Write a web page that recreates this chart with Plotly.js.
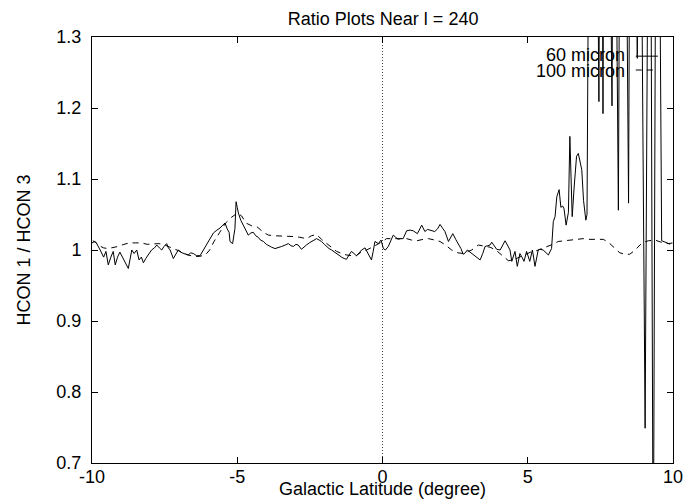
<!DOCTYPE html>
<html>
<head>
<meta charset="utf-8">
<script src="https://cdn.plot.ly/plotly-3.0.1.min.js"></script>
<style>html,body{margin:0;padding:0;background:#fff;}#chart{width:686px;height:502px;}</style>
</head>
<body>
<div id="chart"></div>
<script>
// 60 micron ratio (solid)
const lat60 = [
-9.97,-9.85,-9.72,-9.6,-9.52,-9.44,-9.35,-9.27,-9.2,-9.12,-9.04,-8.95,-8.87,-8.75,-8.63,-8.55,-8.46,-8.38,-8.3,-8.23,
-8.15,-8.06,-7.95,-7.85,-7.77,-7.68,-7.6,-7.52,-7.43,-7.37,-7.31,-7.2,-7.1,-7.03,-6.95,-6.86,-6.78,-6.69,-6.6,-6.51,
-6.4,-6.28,-6.16,-6.05,-5.99,-5.9,-5.82,-5.7,-5.59,-5.5,-5.42,-5.35,-5.28,-5.25,-5.16,-5.08,-5.04,-5.0,-4.96,-4.88,
-4.79,-4.7,-4.62,-4.53,-4.45,-4.36,-4.28,-4.2,-4.1,-4.0,-3.93,-3.82,-3.7,-3.6,-3.47,-3.35,-3.24,-3.15,-3.07,-2.98,
-2.9,-2.79,-2.7,-2.62,-2.52,-2.44,-2.35,-2.27,-2.18,-2.1,-2.0,-1.93,-1.84,-1.75,-1.66,-1.58,-1.5,-1.41,-1.32,-1.24,
-1.15,-1.07,-0.98,-0.9,-0.8,-0.72,-0.6,-0.5,-0.38,-0.32,-0.26,-0.14,-0.05,0.03,0.1,0.2,0.28,0.37,0.45,0.54,
0.62,0.71,0.83,0.95,1.06,1.2,1.35,1.46,1.55,1.63,1.8,1.9,1.98,2.08,2.15,2.27,2.42,2.52,2.61,2.7,
2.78,2.85,2.92,3.07,3.2,3.36,3.45,3.53,3.62,3.7,3.76,3.85,3.93,4.05,4.14,4.22,4.3,4.39,4.45,4.5,
4.56,4.64,4.73,4.8,4.87,4.96,5.07,5.16,5.25,5.36,5.42,5.53,5.6,5.71,5.82,5.88,5.94,6.0,6.08,6.14,
6.2,6.25,6.32,6.4,6.45,6.53,6.6,6.68,6.74,6.8,6.86,6.92,6.97,7.0,7.04,7.09,7.2,7.35,7.45,7.52,
7.59,7.66,7.8,7.9,7.97,8.12,8.22,8.35,8.47,8.55,8.7,8.77,8.85,9.04,9.2,9.32,9.45,9.61,9.7,9.8,9.9];
const ratio60 = [
1.013,1.010,1.000,0.990,0.998,0.979,0.990,0.998,0.979,0.990,0.997,0.990,0.985,0.974,1.000,0.995,1.000,0.986,0.990,0.982,
0.988,0.993,1.000,1.003,1.007,1.003,1.000,1.005,1.009,1.003,1.000,0.988,0.995,1.000,0.997,0.995,0.994,0.993,0.996,0.995,
0.992,0.992,1.000,1.008,1.012,1.018,1.024,1.028,1.031,1.035,1.038,1.030,1.025,1.012,1.009,1.030,1.068,1.060,1.052,1.042,
1.035,1.028,1.021,1.024,1.025,1.020,1.018,1.014,1.012,1.008,1.006,1.004,1.002,1.003,1.005,1.007,1.009,1.006,1.005,1.008,
1.007,1.001,1.005,1.007,1.010,1.012,1.014,1.016,1.014,1.012,1.008,1.005,1.002,1.000,0.997,0.995,0.993,0.990,0.988,0.987,
0.993,0.998,0.995,0.992,0.996,1.000,1.003,0.995,0.986,0.998,1.012,1.009,1.014,1.002,1.000,1.005,1.012,1.021,1.018,1.015,
1.016,1.016,1.027,1.028,1.027,1.023,1.035,1.026,1.029,1.028,1.026,1.030,1.036,1.030,1.026,1.012,1.023,1.015,1.009,1.002,
0.994,0.996,1.000,0.995,0.990,0.986,0.995,1.005,1.006,1.007,1.011,1.005,1.001,1.000,1.006,1.013,1.007,1.000,0.984,0.990,
0.998,0.977,0.995,0.990,0.984,0.998,0.984,1.000,0.977,1.000,1.001,1.000,0.997,0.993,1.002,1.040,1.047,1.075,1.085,1.060,
1.062,1.058,1.035,1.053,1.160,1.047,1.090,1.132,1.136,1.125,1.113,1.070,1.047,1.042,1.050,1.800,2.200,1.700,1.209,1.900,
1.192,2.100,1.600,1.203,1.800,1.056,2.000,1.700,1.066,1.900,1.600,1.270,1.800,0.749,1.900,0.500,2.000,1.013,1.012,1.010,1.008];

// 100 micron ratio (dashed)
const lat100 = [
-10,-9.9,-9.75,-9.6,-9.45,-9.3,-9.1,-8.9,-8.7,-8.5,-8.3,-8.1,-7.9,-7.7,-7.5,-7.3,-7.1,-6.9,-6.7,-6.5,
-6.3,-6.1,-5.95,-5.8,-5.6,-5.4,-5.2,-5.0,-4.85,-4.7,-4.5,-4.33,-4.1,-3.93,-3.7,-3.53,-3.3,-3.07,-2.85,-2.62,
-2.45,-2.27,-2.1,-1.93,-1.75,-1.58,-1.4,-1.24,-1.05,-0.9,-0.7,-0.55,-0.35,-0.2,0.0,0.14,0.35,0.6,0.83,1.0,
1.18,1.4,1.58,1.8,1.98,2.2,2.38,2.6,2.78,2.95,3.07,3.3,3.5,3.7,3.9,4.1,4.22,4.33,4.5,4.7,
4.9,5.1,5.3,5.42,5.6,5.8,6.05,6.25,6.45,6.7,6.91,7.1,7.25,7.4,7.6,7.8,7.94,8.05,8.17,8.35,
8.51,8.7,8.86,9.0,9.15,9.38,9.55,9.66,9.84,10];
const ratio100 = [
1.010,1.012,1.006,1.003,1.002,1.003,1.005,1.008,1.010,1.010,1.010,1.008,1.008,1.009,1.007,1.004,1.000,0.997,0.993,0.991,
0.991,0.993,1.000,1.012,1.025,1.038,1.046,1.052,1.048,1.038,1.034,1.033,1.025,1.021,1.020,1.020,1.020,1.019,1.018,1.016,
1.020,1.022,1.015,1.009,1.003,0.998,0.995,0.993,0.992,0.992,0.998,1.000,1.004,1.007,1.012,1.016,1.016,1.015,1.016,1.014,
1.013,1.015,1.016,1.014,1.012,1.006,1.000,0.996,0.995,0.998,1.000,1.007,1.006,1.004,1.000,0.993,0.989,0.985,0.986,0.990,
0.994,0.997,0.999,1.001,1.003,1.007,1.012,1.013,1.014,1.015,1.016,1.015,1.015,1.016,1.015,1.010,1.005,1.000,0.996,0.994,
0.994,1.000,1.007,1.011,1.013,1.014,1.012,1.010,1.009,1.010];

const xTicks = [-10,-5,0,5,10];
const yTicks = [0.7,0.8,0.9,1,1.1,1.2,1.3];
const seriesNames = ['60 micron','100 micron'];
const xTitle = 'Galactic Latitude (degree)';

const font = {family: '"Liberation Sans", Arial, Helvetica, sans-serif', size: 18, color: '#000'};

const traces = [
  {x: lat60, y: ratio60, type: 'scatter', mode: 'lines', name: seriesNames[0],
   line: {color: '#000', width: 1}, showlegend: false},
  {x: lat100, y: ratio100, type: 'scatter', mode: 'lines', name: seriesNames[1],
   line: {color: '#000', width: 1, dash: '6px,5px'}, showlegend: false}
];

const axisCommon = {
  showgrid: false, zeroline: false, showline: true, linecolor: '#000', linewidth: 1,
  mirror: 'ticks', ticks: 'inside', ticklen: 6, tickcolor: '#000', tickwidth: 1,
  tickfont: font
};

const layout = {
  width: 686, height: 502,
  margin: {l: 92, r: 13, t: 37, b: 39},
  paper_bgcolor: '#fff', plot_bgcolor: '#fff',
  font: font,
  title: {text: 'Ratio Plots Near l = 240', font: font, x: 0.5585, xanchor: 'center', y: 0.962, yanchor: 'middle'},
  xaxis: Object.assign({}, axisCommon, {
    range: [-10, 10], tickvals: xTicks, ticktext: xTicks.map(String),
    ticklabelstandoff: -3
  }),
  yaxis: Object.assign({}, axisCommon, {
    range: [0.7, 1.3], tickvals: yTicks, ticktext: yTicks.map(String),
    ticklabelstandoff: 6,
    title: {text: 'HCON 1 / HCON 3', font: font, standoff: 21}
  }),
  shapes: [
    {type: 'line', xref: 'x', yref: 'paper', x0: 0, x1: 0, y0: 0, y1: 1,
     line: {color: '#444', width: 1, dash: '1px,2px'}, layer: 'below'},
    {type: 'line', xref: 'paper', yref: 'paper', x0: 0.936, x1: 0.974, y0: 0.955, y1: 0.955,
     line: {color: '#000', width: 1}},
    {type: 'line', xref: 'paper', yref: 'paper', x0: 0.936, x1: 0.974, y0: 0.9225, y1: 0.9225,
     line: {color: '#000', width: 1, dash: '6px,5px'}}
  ],
  annotations: [
    {text: xTitle, xref: 'paper', yref: 'paper', x: 0.5, y: -0.061, xanchor: 'center', yanchor: 'middle', showarrow: false, font: font},
    {text: seriesNames[0], xref: 'paper', yref: 'paper', x: 0.921, y: 0.958, xanchor: 'right', yanchor: 'middle', showarrow: false, font: font},
    {text: seriesNames[1], xref: 'paper', yref: 'paper', x: 0.921, y: 0.921, xanchor: 'right', yanchor: 'middle', showarrow: false, font: font}
  ],
  showlegend: false
};

Plotly.newPlot('chart', traces, layout, {displayModeBar: false, staticPlot: true});
</script>
</body>
</html>
